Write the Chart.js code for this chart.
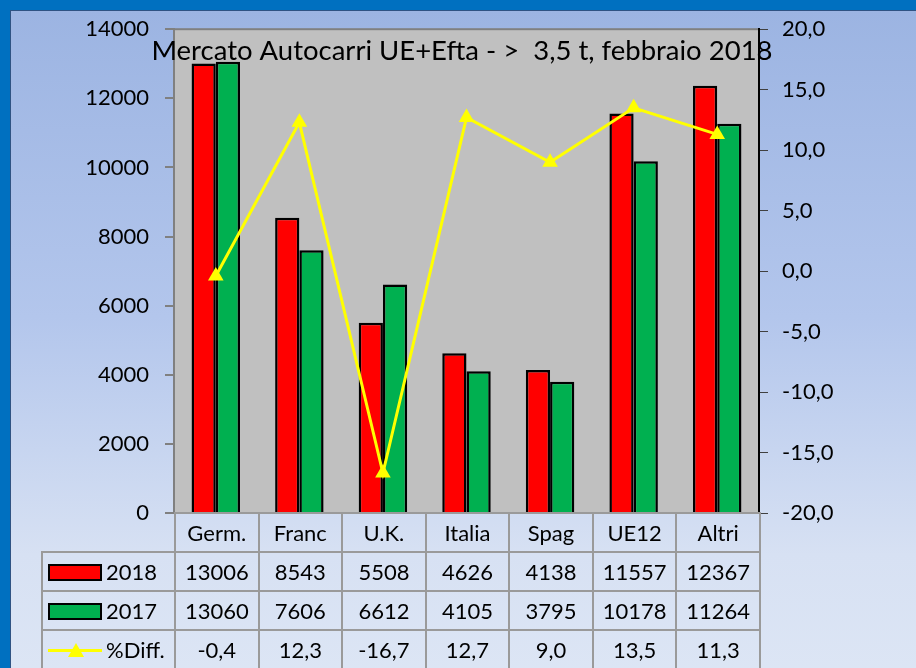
<!DOCTYPE html>
<html>
<head>
<meta charset="utf-8">
<script src="https://cdn.jsdelivr.net/npm/chart.js@4.4.1/dist/chart.umd.min.js"></script>
<style>
  html, body { margin: 0; padding: 0; }
  body { width: 916px; height: 668px; background: #0070C0; overflow: hidden; position: relative; font-family: Lato, "Noto Sans", sans-serif; }
  #panel { position: absolute; left: 10px; top: 10px; width: 920px; height: 680px;
    background: linear-gradient(to bottom, #9cb4e2 0%, #b3c6ec 45%, #d7e1f3 80%, #dde6f5 100%);
    border: 1px solid #2f5383; }
  #wrap { position: absolute; left: 0; top: 0; width: 916px; height: 668px; }
  #tbl { position: absolute; border-collapse: collapse; font-size: 22px; color: #000; }
  #tbl td { border: 2px solid #9a9a9a; text-align: center; padding: 0; height: 37px; }
  #tbl td.blank { border: none; }
  .lab { text-align: left !important; white-space: nowrap; }
  .sw { display: inline-block; width: 50px; height: 13px; border: 2px solid #000; vertical-align: middle; margin: 0 4px 0 5px; position: relative; top: -2px; }
  .ln { display: inline-block; width: 54px; height: 14px; vertical-align: middle; margin: 0 4px 0 5px; position: relative; top: -2px; }
  .ln:before { content: ""; position: absolute; left: 0; right: 0; top: 6px; height: 3px; background: #ffff00; }
  .ln:after { content: ""; position: absolute; left: 20px; top: 0; border-left: 8px solid transparent; border-right: 8px solid transparent; border-bottom: 14px solid #ffff00; }
</style>
</head>
<body>
<div id="panel"></div>
<div id="wrap"><canvas id="myChart" width="916" height="668"></canvas></div>
<table id="tbl"></table>
<script>
// dati
var categorie = ["Germ.", "Franc", "U.K.", "Italia", "Spag", "UE12", "Altri"];
var valori2018 = [13006, 8543, 5508, 4626, 4138, 11557, 12367];
var valori2017 = [13060, 7606, 6612, 4105, 3795, 10178, 11264];
var diffPerc = [-0.4, 12.3, -16.7, 12.7, 9.0, 13.5, 11.3];
var titolo = "Mercato Autocarri UE+Efta - >  3,5 t, febbraio 2018";

function virgola(v) {
  return v.toFixed(1).replace('.', ',');
}

// sfondo grigio dell'area del grafico + titolo
const sfondoArea = {
  id: 'sfondoArea',
  beforeDraw(chart) {
    const a = chart.chartArea, ctx = chart.ctx;
    ctx.save();
    ctx.fillStyle = '#c0c0c0';
    ctx.fillRect(a.left, a.top, a.right - a.left, a.bottom - a.top);
    ctx.strokeStyle = '#808080';
    ctx.lineWidth = 2;
    ctx.strokeRect(a.left, a.top, a.right - a.left, a.bottom - a.top);
    ctx.restore();
  },
  afterDraw(chart) {
    const ctx = chart.ctx;
    ctx.save();
    ctx.font = '27.5px Lato, "Noto Sans", sans-serif';
    ctx.fillStyle = '#000';
    ctx.textAlign = 'center';
    ctx.textBaseline = 'middle';
    ctx.fillText(titolo, 462, 51);
    ctx.restore();
  }
};

const data = {
  labels: categorie,
  datasets: [{
    type: 'line',
    label: '%Diff.',
    data: diffPerc,
    yAxisID: 'y1',
    borderColor: '#ffff00',
    backgroundColor: '#ffff00',
    borderWidth: 3,
    pointStyle: 'triangle',
    pointRadius: 9,
    pointBorderWidth: 0,
    order: 0
  }, {
    type: 'bar',
    label: '2018',
    data: valori2018,
    yAxisID: 'y',
    backgroundColor: '#ff0000',
    borderColor: '#000',
    borderWidth: 2.5,
    order: 1
  }, {
    type: 'bar',
    label: '2017',
    data: valori2017,
    yAxisID: 'y',
    backgroundColor: '#00b050',
    borderColor: '#000',
    borderWidth: 2.5,
    order: 1
  }]
};

const config = {
  data: data,
  options: {
    responsive: false,
    animation: false,
    layout: { padding: { top: 26, bottom: 155 } },
    datasets: { bar: { categoryPercentage: 0.58, barPercentage: 1.0 } },
    plugins: { legend: { display: false }, title: { display: false }, tooltip: { enabled: false } },
    scales: {
      x: { display: false },
      y: {
        position: 'left',
        min: 0, max: 14000,
        ticks: { stepSize: 2000, color: '#000', font: { size: 22, family: 'Lato' }, padding: 16,
          callback: function(v) { return String(v); } },
        grid: { drawOnChartArea: false, tickLength: 9, color: '#808080', lineWidth: 2 },
        border: { color: '#808080', width: 2 },
        afterFit(s) { s.width = 174; }
      },
      y1: {
        position: 'right',
        min: -20, max: 20,
        ticks: { stepSize: 5, color: '#000', font: { size: 22, family: 'Lato' }, padding: 14,
          callback: function(v) { return virgola(v); } },
        grid: { drawOnChartArea: false, tickLength: 9, color: '#404040', lineWidth: 1 },
        border: { color: '#000', width: 2 },
        afterFit(s) { s.width = 157; }
      }
    }
  },
  plugins: [sfondoArea]
};

const myChart = new Chart(document.getElementById('myChart'), config);

// tabella dati sotto il grafico
function creaTabella(chart) {
  const a = chart.chartArea;
  const colW = (a.right - a.left) / categorie.length;
  const tbl = document.getElementById('tbl');
  tbl.style.left = '41px';
  tbl.style.top = (a.bottom - 1) + 'px';
  let html = '<colgroup><col style="width:' + (a.left - 41) + 'px">';
  categorie.forEach(function() { html += '<col style="width:' + colW + 'px">'; });
  html += '</colgroup>';
  html += '<tr><td class="blank"></td>' + categorie.map(function(c) { return '<td>' + c + '</td>'; }).join('') + '</tr>';
  html += '<tr><td class="lab"><span class="sw" style="background:#ff0000"></span>2018</td>' +
    valori2018.map(function(v) { return '<td>' + v + '</td>'; }).join('') + '</tr>';
  html += '<tr><td class="lab"><span class="sw" style="background:#00b050"></span>2017</td>' +
    valori2017.map(function(v) { return '<td>' + v + '</td>'; }).join('') + '</tr>';
  html += '<tr><td class="lab"><span class="ln"></span>%Diff.</td>' +
    diffPerc.map(function(v) { return '<td>' + virgola(v) + '</td>'; }).join('') + '</tr>';
  tbl.innerHTML = html;
}
creaTabella(myChart);
</script>
</body>
</html>
